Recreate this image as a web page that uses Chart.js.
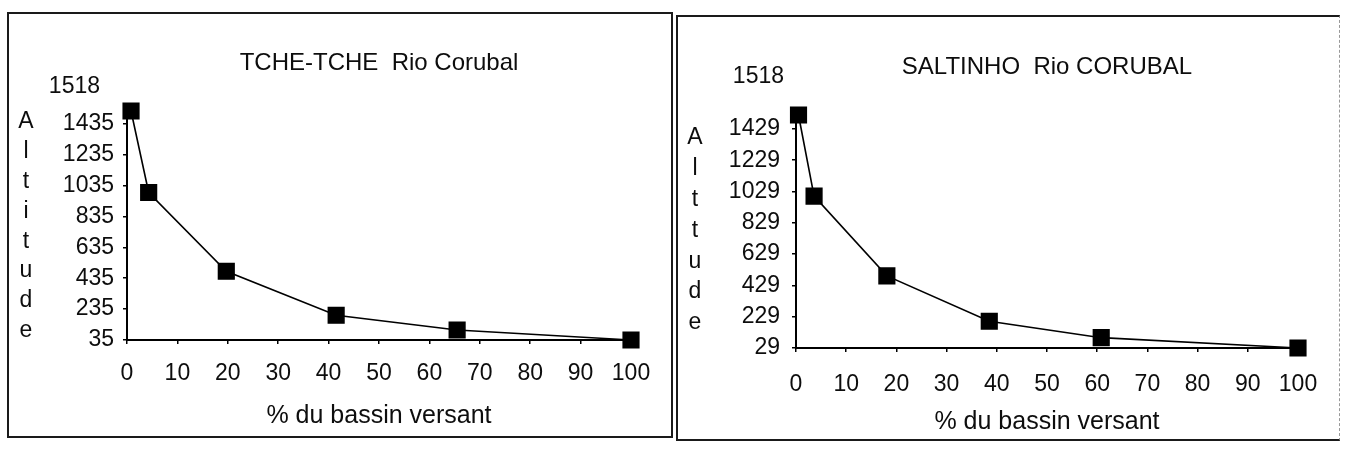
<!DOCTYPE html>
<html>
<head>
<meta charset="utf-8">
<script src="https://cdn.jsdelivr.net/npm/chart.js@4.4.1/dist/chart.umd.min.js"></script>
<style>
  html, body { margin: 0; padding: 0; background: #fff; width: 1346px; height: 451px; overflow: hidden; }
  canvas { position: absolute; }
  .frame { position: absolute; box-sizing: border-box; pointer-events: none; }
</style>
</head>
<body>
<canvas id="tche" width="664" height="426" style="left:8px;top:12px"></canvas>
<div class="frame" style="left:7px;top:12px;width:666px;height:426px;border:2px solid #1a1a1a"></div>
<canvas id="salt" width="662" height="426" style="left:677px;top:15px"></canvas>
<div class="frame" style="left:676px;top:15px;width:664px;height:426px;border-left:2px solid #1a1a1a;border-top:2px solid #1a1a1a;border-bottom:2px solid #1a1a1a;border-right:1px dashed #999"></div>
<script>
// shared x axis
const xTicks = [0, 10, 20, 30, 40, 50, 60, 70, 80, 90, 100];
const xTitle = '% du bassin versant';

// TCHE-TCHE
const tcheTitle = 'TCHE-TCHE  Rio Corubal';
const tchePct = [0.8, 4.3, 19.7, 41.5, 65.5, 100];
const tcheAlt = [1518, 990, 480, 195, 100, 35];
const tcheYTicks = [35, 235, 435, 635, 835, 1035, 1235, 1435];
const tcheMax = 1518;
const tcheLetters = ['A', 'l', 't', 'i', 't', 'u', 'd', 'e'];

// SALTINHO
const saltTitle = 'SALTINHO  Rio CORUBAL';
const saltPct = [0.5, 3.6, 18.1, 38.5, 60.8, 100];
const saltAlt = [1518, 1000, 490, 200, 95, 29];
const saltYTicks = [29, 229, 429, 629, 829, 1029, 1229, 1429];
const saltMax = 1518;
const saltLetters = ['A', 'l', 't', 't', 'u', 'd', 'e'];

const FONT = '"Liberation Sans", Arial, Helvetica, sans-serif';
const INK = '#0d0d0d';

// title, stacked axis letters and the max label above the axis
const scanText = {
  id: 'scanText',
  afterDraw(chart, args, o) {
    const { ctx, chartArea } = chart;
    const y = chart.scales.y;
    ctx.save();
    ctx.fillStyle = INK;
    ctx.textBaseline = 'middle';
    ctx.textAlign = 'center';
    ctx.font = '24px ' + FONT;
    ctx.fillText(o.title, (chartArea.left + chartArea.right) / 2, o.titleY);
    ctx.font = '23px ' + FONT;
    o.letters.forEach((ch, i) => ctx.fillText(ch, o.lettersX, o.lettersY + i * o.lettersStep));
    ctx.textAlign = 'right';
    ctx.fillText(String(o.top), o.topX, y.getPixelForValue(o.top) + o.topDy);
    ctx.restore();
  }
};

function makeChart(id, c) {
  const ctx = document.getElementById(id).getContext('2d');
  return new Chart(ctx, {
    type: 'scatter',
    data: {
      datasets: [{
        data: c.pct.map((p, i) => ({ x: p, y: c.alt[i] })),
        showLine: true,
        borderColor: '#000',
        borderWidth: 1.6,
        backgroundColor: '#000',
        pointStyle: 'rect',
        pointRadius: 11,
        pointHoverRadius: 11,
        tension: 0,
        clip: false
      }]
    },
    options: {
      responsive: false,
      animation: false,
      events: [],
      layout: { padding: { left: 0, top: c.padTop, right: c.padRight, bottom: 0 } },
      plugins: {
        legend: { display: false },
        tooltip: { enabled: false },
        scanText: {
          title: c.title, titleY: c.titleY,
          letters: c.letters, lettersX: 18, lettersY: c.lettersY, lettersStep: c.lettersStep,
          top: c.max, topX: c.topX, topDy: c.topDy
        }
      },
      scales: {
        x: {
          type: 'linear', min: 0, max: 100,
          afterBuildTicks: s => { s.ticks = xTicks.map(v => ({ value: v })); },
          afterFit: s => { s.height = c.xHeight; },
          grid: { drawOnChartArea: false, color: '#000', tickLength: 4, lineWidth: 1.5 },
          border: { color: '#000', width: 2 },
          ticks: { color: INK, font: { family: FONT, size: 23 }, padding: c.xPad, maxRotation: 0, autoSkip: false,
                   callback: v => String(v) },
          title: { display: true, text: xTitle, color: INK, font: { family: FONT, size: 25 }, padding: { top: 0, bottom: c.xTitlePad } }
        },
        y: {
          type: 'linear', min: c.min, max: c.max,
          afterBuildTicks: s => { s.ticks = c.yTicks.map(v => ({ value: v })); },
          afterFit: s => { s.width = 119; },
          grid: { drawOnChartArea: false, color: '#000', tickLength: 4, lineWidth: 1.5 },
          border: { color: '#000', width: 2 },
          ticks: { color: INK, font: { family: FONT, size: 23 }, padding: c.yPad, autoSkip: false,
                   callback: v => String(v) }
        }
      }
    },
    plugins: [scanText]
  });
}

makeChart('tche', {
  title: tcheTitle, pct: tchePct, alt: tcheAlt, yTicks: tcheYTicks,
  min: tcheYTicks[0], max: tcheMax, letters: tcheLetters,
  padTop: 99, padRight: 41, xHeight: 98, xPad: 16, xTitlePad: 7, yPad: 9,
  titleY: 51, lettersY: 110, lettersStep: 29.8, topX: 92, topDy: -24
});

makeChart('salt', {
  title: saltTitle, pct: saltPct, alt: saltAlt, yTicks: saltYTicks,
  min: saltYTicks[0], max: saltMax, letters: saltLetters,
  padTop: 100, padRight: 41, xHeight: 93, xPad: 19, xTitlePad: 4, yPad: 12,
  titleY: 52, lettersY: 123, lettersStep: 30.8, topX: 107, topDy: -38
});
</script>
</body>
</html>
